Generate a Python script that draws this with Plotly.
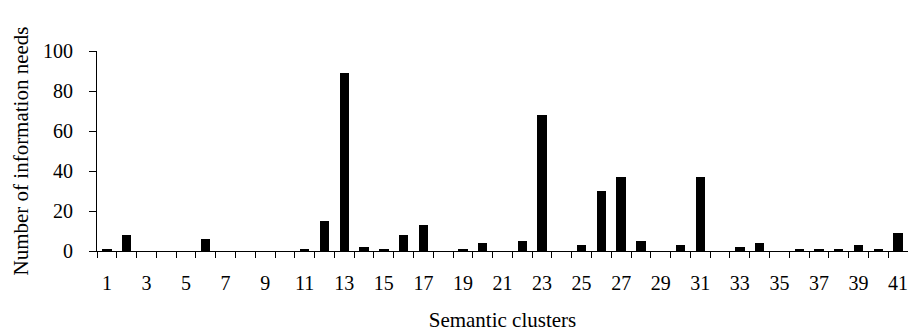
import plotly.graph_objects as go

clusters = list(range(1, 42))
needs = [1, 8, 0, 0, 0, 6, 0, 0, 0, 0,
         1, 15, 89, 2, 1, 8, 13, 0, 1, 4,
         0, 5, 68, 0, 3, 30, 37, 5, 0, 3,
         37, 0, 2, 4, 0, 1, 1, 1, 3, 1,
         9]
tick_labels = [str(c) for c in clusters if c % 2 == 1]
tick_vals = [c for c in clusters if c % 2 == 1]

font_family = "Liberation Serif, Times New Roman, serif"

fig = go.Figure(go.Bar(
    x=clusters, y=needs, width=0.475,
    marker=dict(color="black", line=dict(width=0)),
))

fig.update_layout(
    width=908, height=332,
    margin=dict(l=97, r=0, t=51, b=81),
    paper_bgcolor="white", plot_bgcolor="white",
    font=dict(family=font_family, size=20, color="black"),
    showlegend=False,
    bargap=0,
)
fig.update_xaxes(
    range=[0.5, 41.5], tickvals=tick_vals, ticktext=tick_labels,
    ticks="", showgrid=False, zeroline=False,
    showline=True, linecolor="black", linewidth=1,
    ticklabelstandoff=14, ticklabeloverflow="allow",
    minor=dict(ticks="outside", tick0=0.5, dtick=1, ticklen=6, tickcolor="black", showgrid=False),
    title=dict(text="Semantic clusters", font=dict(size=21), standoff=21),
)
fig.update_yaxes(
    range=[0, 100], dtick=20, ticks="outside", ticklen=7, tickcolor="black",
    ticklabelstandoff=12,
    showgrid=False, zeroline=False, showline=True, linecolor="black", linewidth=1,
    title=dict(text="Number of information needs", font=dict(size=21), standoff=8),
)
fig.write_html("out.html")
